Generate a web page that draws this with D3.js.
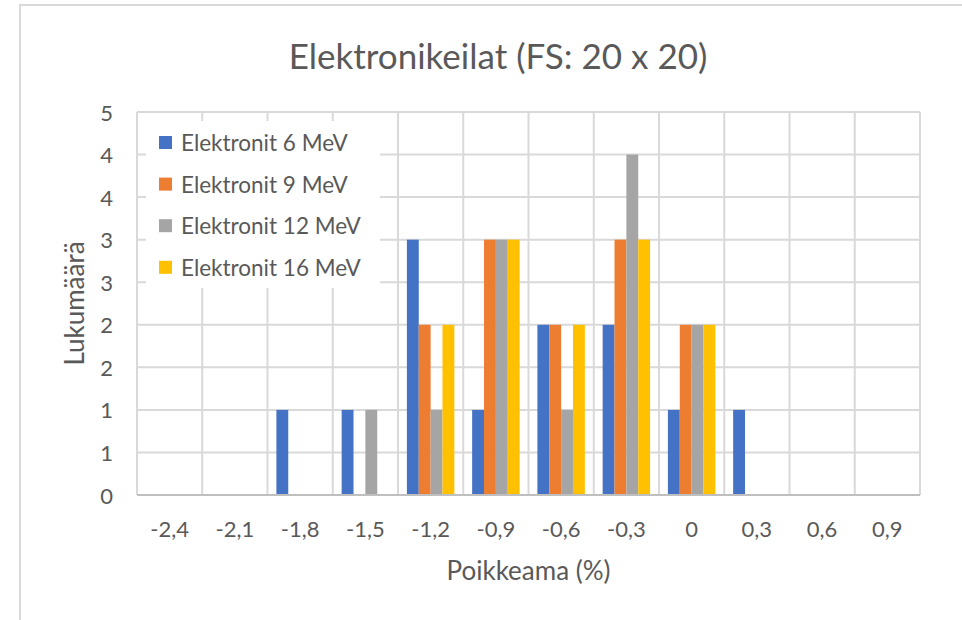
<!DOCTYPE html>
<html>
<head>
<meta charset="utf-8">
<script src="https://cdn.jsdelivr.net/npm/d3@7/dist/d3.min.js"></script>
<style>
  body { margin: 0; background: #fff; }
  svg text { font-family: Lato, "Open Sans", sans-serif; fill: #595959; }
</style>
</head>
<body>
<div id="chart"></div>
<script>
const CATEGORIES = ["-2,4", "-2,1", "-1,8", "-1,5", "-1,2", "-0,9", "-0,6", "-0,3", "0", "0,3", "0,6", "0,9"];
const SERIES_NAMES = ["Elektronit 6 MeV", "Elektronit 9 MeV", "Elektronit 12 MeV", "Elektronit 16 MeV"];
const E6  = [0, 0, 1, 1, 3, 1, 2, 2, 1, 1, 0, 0];
const E9  = [0, 0, 0, 0, 2, 3, 2, 3, 2, 0, 0, 0];
const E12 = [0, 0, 0, 1, 1, 3, 1, 4, 2, 0, 0, 0];
const E16 = [0, 0, 0, 0, 2, 3, 2, 3, 2, 0, 0, 0];
const Y_TICKS = [0, 0.5, 1, 1.5, 2, 2.5, 3, 3.5, 4, 4.5];

const COLORS = ["#4472C4", "#ED7D31", "#A5A5A5", "#FFC000"];
const W = 962, H = 620;
const PLOT = { left: 137, right: 920, top: 112, bottom: 495 };

const seriesValues = [E6, E9, E12, E16];

const svg = d3.select("#chart").append("svg")
  .attr("width", W).attr("height", H);

// chart frame (runs off the right and bottom edge)
svg.append("rect")
  .attr("x", 20).attr("y", 5)
  .attr("width", 1000).attr("height", 700)
  .attr("fill", "#fff")
  .attr("stroke", "#d9d9d9").attr("stroke-width", 2);

const x = d3.scaleBand()
  .domain(CATEGORIES)
  .range([PLOT.left, PLOT.right])
  .paddingInner(0).paddingOuter(0);

// 4 bars + 150% gap width, gap split on both sides
const x1 = d3.scaleBand()
  .domain(d3.range(SERIES_NAMES.length))
  .range([0, x.bandwidth()])
  .paddingOuter(0.75)
  .paddingInner(0);

const y = d3.scaleLinear()
  .domain([0, 4.5])
  .range([PLOT.bottom, PLOT.top]);

// horizontal gridlines
svg.append("g").selectAll("line")
  .data(Y_TICKS.slice(1))
  .join("line")
  .attr("x1", PLOT.left).attr("x2", PLOT.right)
  .attr("y1", d => y(d)).attr("y2", d => y(d))
  .attr("stroke", "#d9d9d9").attr("stroke-width", 2);

// vertical gridlines on category boundaries
const bounds = CATEGORIES.map(c => x(c)).concat([PLOT.right]);
svg.append("g").selectAll("line")
  .data(bounds)
  .join("line")
  .attr("x1", d => d).attr("x2", d => d)
  .attr("y1", PLOT.top).attr("y2", PLOT.bottom)
  .attr("stroke", "#d9d9d9").attr("stroke-width", 2);

// bars
const groups = svg.append("g").selectAll("g")
  .data(CATEGORIES)
  .join("g")
  .attr("transform", c => `translate(${x(c)},0)`);

groups.selectAll("rect")
  .data((c, ci) => seriesValues.map((vals, si) => ({ si, v: vals[ci] })))
  .join("rect")
  .attr("x", d => x1(d.si))
  .attr("width", x1.bandwidth())
  .attr("y", d => y(d.v))
  .attr("height", d => y(0) - y(d.v))
  .attr("fill", d => COLORS[d.si]);

// category axis line
svg.append("line")
  .attr("x1", PLOT.left).attr("x2", PLOT.right)
  .attr("y1", PLOT.bottom).attr("y2", PLOT.bottom)
  .attr("stroke", "#bfbfbf").attr("stroke-width", 2);

// y tick labels (rounded to whole numbers like the source)
svg.append("g").selectAll("text")
  .data(Y_TICKS)
  .join("text")
  .attr("x", 113)
  .attr("y", d => y(d))
  .attr("text-anchor", "end")
  .attr("dominant-baseline", "central")
  .style("font-size", "22px")
  .text(d => Math.round(d));

// x tick labels
svg.append("g").selectAll("text")
  .data(CATEGORIES)
  .join("text")
  .attr("x", c => x(c) + x.bandwidth() / 2)
  .attr("y", 537)
  .attr("text-anchor", "middle")
  .style("font-size", "22px")
  .text(c => c);

// title
svg.append("text")
  .attr("x", 498).attr("y", 69)
  .attr("text-anchor", "middle")
  .style("font-size", "35px")
  .text("Elektronikeilat (FS: 20 x 20)");

// axis titles
svg.append("text")
  .attr("x", (PLOT.left + PLOT.right) / 2).attr("y", 580)
  .attr("text-anchor", "middle")
  .style("font-size", "26px")
  .text("Poikkeama (%)");

svg.append("text")
  .attr("transform", `translate(84,${(PLOT.top + PLOT.bottom) / 2}) rotate(-90)`)
  .attr("text-anchor", "middle")
  .style("font-size", "26px")
  .text("Lukumäärä");

// legend
const legend = svg.append("g");
legend.append("rect")
  .attr("x", 146).attr("y", 121)
  .attr("width", 234).attr("height", 167)
  .attr("fill", "#fff");

const rows = legend.selectAll("g")
  .data(SERIES_NAMES)
  .join("g")
  .attr("transform", (d, i) => `translate(159,${142.5 + i * 41.6})`);

rows.append("rect")
  .attr("x", 0).attr("y", -6.5)
  .attr("width", 13).attr("height", 13)
  .attr("fill", (d, i) => COLORS[i]);

rows.append("text")
  .attr("x", 22).attr("y", 0)
  .attr("dominant-baseline", "central")
  .style("font-size", "22.5px")
  .text(d => d);
</script>
</body>
</html>
